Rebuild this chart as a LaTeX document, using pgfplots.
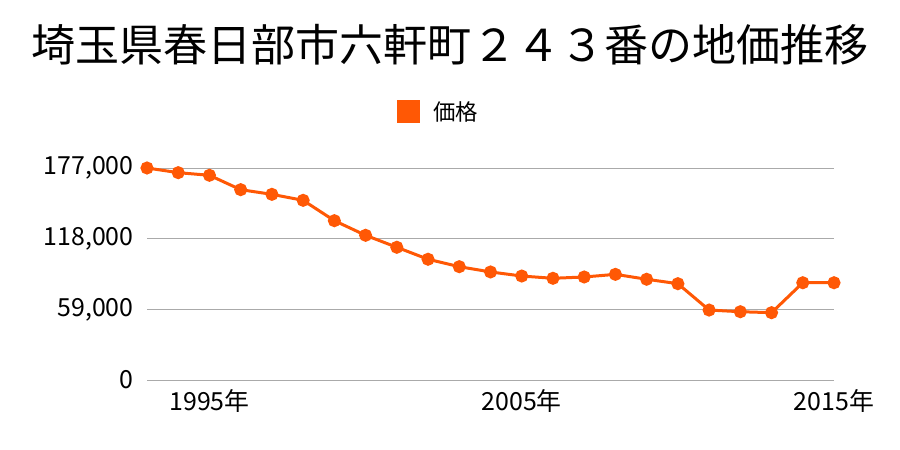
\documentclass[border=0pt]{standalone}
\usepackage{fontspec}
\setmainfont{Noto Sans CJK JP}
\usepackage{pgfplots}
\pgfplotsset{compat=1.18}
\definecolor{lineor}{RGB}{255,88,5}
\definecolor{gridg}{RGB}{170,170,170}
\begin{document}
\begin{tikzpicture}[x=1bp,y=1bp]
\path (0,0) rectangle (900,450);
\node[font=\fontsize{44.2}{48}\selectfont] at (450,405) {埼玉県春日部市六軒町２４３番の地価推移};
\fill[lineor] (397,327) rectangle (420,350);
\node[anchor=west,inner sep=0pt,font=\fontsize{22.5}{24}\selectfont] at (433,338) {価格};
\begin{axis}[
  at={(147bp,70bp)}, anchor=south west,
  scale only axis, width=687bp, height=212bp,
  xmin=1993, xmax=2015, ymin=0, ymax=177000,
  axis line style={draw=none},
  scaled y ticks=false,
  ymajorgrids, grid style={gridg, line width=0.8pt},
  ytick={0,59000,118000,177000},
  yticklabels={0,{59,000},{118,000},{177,000}},
  xtick={1995,2005,2015},
  xticklabels={1995年,2005年,2015年},
  /pgf/number format/assume math mode=true,
  tick label style={font=\fontsize{25}{26}\selectfont},
  yticklabel style={xshift=-10bp},
  xticklabel style={yshift=-6bp},
  major tick length=0pt,
  clip=false,
]
\addplot[lineor, line width=3bp, mark=*, mark size=5bp, mark options={solid, fill=lineor, draw=none}] coordinates {
(1993,177000)(1994,173100)(1995,170900)(1996,158900)(1997,155000)(1998,150000)
(1999,133000)(2000,120800)(2001,110800)(2002,100800)(2003,94600)(2004,90200)
(2005,86800)(2006,84900)(2007,86000)(2008,88200)(2009,84100)(2010,80400)
(2011,58400)(2012,57000)(2013,56200)(2014,81200)(2015,81200)};
\end{axis}
\end{tikzpicture}
\end{document}
